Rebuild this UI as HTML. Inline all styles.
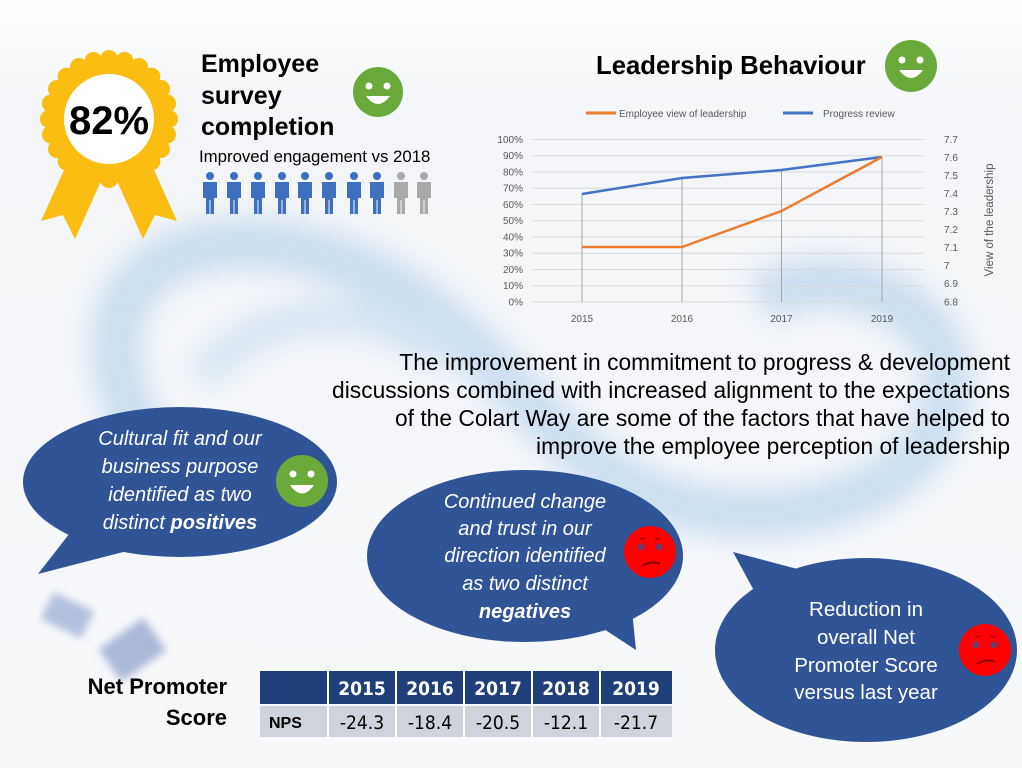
<!DOCTYPE html>
<html><head><meta charset="utf-8"><style>
html,body{margin:0;padding:0;background:#fff;}
svg{display:block;font-family:"Liberation Sans",sans-serif;}
</style></head><body>
<svg width="1022" height="768" viewBox="0 0 1022 768" xmlns="http://www.w3.org/2000/svg">
<defs>
<filter id="blur" x="-20%" y="-20%" width="140%" height="140%"><feGaussianBlur stdDeviation="14"/></filter>
<filter id="blur2"><feGaussianBlur stdDeviation="4"/></filter>
<linearGradient id="bg" x1="0" y1="0" x2="0" y2="1"><stop offset="0" stop-color="#ffffff"/><stop offset="0.15" stop-color="#f3f5f8"/><stop offset="1" stop-color="#f7f8fa"/></linearGradient>
</defs>
<rect width="1022" height="768" fill="url(#bg)"/>
<g filter="url(#blur)" fill="none" opacity="0.4">
<path d="M150 450 C 60 300, 160 220, 300 250 C 450 280, 520 420, 620 480 C 720 540, 900 520, 940 420 C 980 320, 850 250, 760 300" stroke="#8fb9e3" stroke-width="50"/>
<path d="M200 380 C 260 300, 380 300, 440 360" stroke="#a9cbe9" stroke-width="35"/>
</g>
<g filter="url(#blur2)" opacity="0.55">
<rect x="45" y="600" width="45" height="30" fill="#7d94c4" transform="rotate(25 67 615)"/>
<rect x="105" y="630" width="55" height="40" fill="#6f88bd" transform="rotate(-35 132 650)"/>
</g>

<!-- rosette -->
<g transform="translate(109,119)">
<polygon points="-40,40 -68,102 -46,96 -34,120 -8,62" fill="#fbbd12"/>
<polygon points="40,40 68,102 46,96 34,120 8,62" fill="#fbbd12"/>
<g fill="#fbbd12">
<circle r="60"/>
<circle cx="0" cy="-60" r="9"/><circle cx="30" cy="-52" r="9"/><circle cx="52" cy="-30" r="9"/><circle cx="60" cy="0" r="9"/><circle cx="52" cy="30" r="9"/><circle cx="30" cy="52" r="9"/><circle cx="0" cy="60" r="9"/><circle cx="-30" cy="52" r="9"/><circle cx="-52" cy="30" r="9"/><circle cx="-60" cy="0" r="9"/><circle cx="-52" cy="-30" r="9"/><circle cx="-30" cy="-52" r="9"/>
<circle cx="15.5" cy="-58" r="9"/><circle cx="42.4" cy="-42.4" r="9"/><circle cx="58" cy="-15.5" r="9"/><circle cx="58" cy="15.5" r="9"/><circle cx="42.4" cy="42.4" r="9"/><circle cx="15.5" cy="58" r="9"/><circle cx="-15.5" cy="58" r="9"/><circle cx="-42.4" cy="42.4" r="9"/><circle cx="-58" cy="15.5" r="9"/><circle cx="-58" cy="-15.5" r="9"/><circle cx="-42.4" cy="-42.4" r="9"/><circle cx="-15.5" cy="-58" r="9"/>
</g>
<circle r="45" fill="#fff"/>
<text x="0" y="15" text-anchor="middle" font-size="40" font-weight="bold" fill="#000">82%</text>
</g>

<g font-size="25" font-weight="bold" fill="#000">
<text x="201" y="72">Employee</text><text x="201" y="104">survey</text><text x="201" y="135">completion</text>
</g>
<text x="199" y="162" font-size="16.8" fill="#000">Improved engagement vs 2018</text>
<g>
<circle cx="378" cy="92" r="25" fill="#6aaa3a"/>
<circle cx="369" cy="86" r="3.5" fill="#fff"/><circle cx="387" cy="86" r="3.5" fill="#fff"/>
<path d="M366 96 Q378 112 390 96 Z" fill="#fff"/>
</g>
<g>
<g fill="#3f6fbf">
<g transform="translate(210,0)"><circle cx="0" cy="176" r="4"/><path d="M-7 182 h14 v16 h-3 v16 h-3.5 v-14 h-1 v14 h-3.5 v-16 h-3 z"/></g>
<g transform="translate(234,0)"><circle cx="0" cy="176" r="4"/><path d="M-7 182 h14 v16 h-3 v16 h-3.5 v-14 h-1 v14 h-3.5 v-16 h-3 z"/></g>
<g transform="translate(258,0)"><circle cx="0" cy="176" r="4"/><path d="M-7 182 h14 v16 h-3 v16 h-3.5 v-14 h-1 v14 h-3.5 v-16 h-3 z"/></g>
<g transform="translate(282,0)"><circle cx="0" cy="176" r="4"/><path d="M-7 182 h14 v16 h-3 v16 h-3.5 v-14 h-1 v14 h-3.5 v-16 h-3 z"/></g>
<g transform="translate(305,0)"><circle cx="0" cy="176" r="4"/><path d="M-7 182 h14 v16 h-3 v16 h-3.5 v-14 h-1 v14 h-3.5 v-16 h-3 z"/></g>
<g transform="translate(329,0)"><circle cx="0" cy="176" r="4"/><path d="M-7 182 h14 v16 h-3 v16 h-3.5 v-14 h-1 v14 h-3.5 v-16 h-3 z"/></g>
<g transform="translate(354,0)"><circle cx="0" cy="176" r="4"/><path d="M-7 182 h14 v16 h-3 v16 h-3.5 v-14 h-1 v14 h-3.5 v-16 h-3 z"/></g>
<g transform="translate(377,0)"><circle cx="0" cy="176" r="4"/><path d="M-7 182 h14 v16 h-3 v16 h-3.5 v-14 h-1 v14 h-3.5 v-16 h-3 z"/></g>
</g>
<g fill="#a9a9a9">
<g transform="translate(401,0)"><circle cx="0" cy="176" r="4"/><path d="M-7 182 h14 v16 h-3 v16 h-3.5 v-14 h-1 v14 h-3.5 v-16 h-3 z"/></g>
<g transform="translate(424,0)"><circle cx="0" cy="176" r="4"/><path d="M-7 182 h14 v16 h-3 v16 h-3.5 v-14 h-1 v14 h-3.5 v-16 h-3 z"/></g>
</g>
</g>

<text x="596" y="74" font-size="25.7" font-weight="bold" fill="#000">Leadership Behaviour</text>
<g>
<circle cx="911" cy="66" r="26" fill="#6aaa3a"/>
<circle cx="902" cy="60" r="3.5" fill="#fff"/><circle cx="920" cy="60" r="3.5" fill="#fff"/>
<path d="M899 70 Q911 86 923 70 Z" fill="#fff"/>
</g>

<g font-size="10" fill="#595959">
<line x1="586" y1="113" x2="616" y2="113" stroke="#ed7d31" stroke-width="3"/>
<text x="619" y="117">Employee view of leadership</text>
<line x1="783" y1="113" x2="813" y2="113" stroke="#4472c4" stroke-width="3"/>
<text x="823" y="117">Progress review</text>
<g stroke="#d9d9d9" stroke-width="1">
<line x1="532" x2="924" y1="139.5" y2="139.5"/><line x1="532" x2="924" y1="155.8" y2="155.8"/><line x1="532" x2="924" y1="172" y2="172"/><line x1="532" x2="924" y1="188.3" y2="188.3"/><line x1="532" x2="924" y1="204.5" y2="204.5"/><line x1="532" x2="924" y1="220.8" y2="220.8"/><line x1="532" x2="924" y1="237" y2="237"/><line x1="532" x2="924" y1="253.3" y2="253.3"/><line x1="532" x2="924" y1="269.5" y2="269.5"/><line x1="532" x2="924" y1="285.8" y2="285.8"/><line x1="532" x2="924" y1="302" y2="302"/>
</g>
<g stroke="#a6a6a6" stroke-width="1">
<line x1="582" x2="582" y1="194" y2="302"/><line x1="682" x2="682" y1="178" y2="302"/><line x1="781.5" x2="781.5" y1="170" y2="302"/><line x1="882" x2="882" y1="157" y2="302"/>
</g>
<polyline points="582,194 682,178 781.5,170 882,157" fill="none" stroke="#4472c4" stroke-width="2.5"/>
<polyline points="582,247 682,247 781.5,211 882,157" fill="none" stroke="#ed7d31" stroke-width="2.5"/>
<g text-anchor="end">
<text x="523" y="143">100%</text><text x="523" y="159">90%</text><text x="523" y="175.5">80%</text><text x="523" y="191.5">70%</text><text x="523" y="208">60%</text><text x="523" y="224">50%</text><text x="523" y="240.5">40%</text><text x="523" y="256.5">30%</text><text x="523" y="273">20%</text><text x="523" y="289">10%</text><text x="523" y="305.5">0%</text>
</g>
<g>
<text x="944" y="143">7.7</text><text x="944" y="161">7.6</text><text x="944" y="179">7.5</text><text x="944" y="197">7.4</text><text x="944" y="215">7.3</text><text x="944" y="233">7.2</text><text x="944" y="251">7.1</text><text x="944" y="269">7</text><text x="944" y="287">6.9</text><text x="944" y="305.5">6.8</text>
</g>
<g text-anchor="middle">
<text x="582" y="322">2015</text><text x="682" y="322">2016</text><text x="781.5" y="322">2017</text><text x="882" y="322">2019</text>
</g>
<text transform="translate(993,220) rotate(-90)" text-anchor="middle" font-size="11.5">View of the leadership</text>
</g>

<g font-size="22.8" fill="#000" text-anchor="end">
<text x="1010" y="370">The improvement in commitment to progress &amp; development</text>
<text x="1010" y="398">discussions combined with increased alignment to the expectations</text>
<text x="1010" y="426">of the Colart Way are some of the factors that have helped to</text>
<text x="1010" y="454">improve the employee perception of leadership</text>
</g>

<g fill="#2f5597">
<ellipse cx="180" cy="482" rx="157" ry="75"/>
<polygon points="80,520 38,574 150,545"/>
</g>
<g fill="#fff" font-size="20" font-style="italic" text-anchor="middle">
<text x="180" y="445">Cultural fit and our</text>
<text x="180" y="473">business purpose</text>
<text x="180" y="501">identified as two</text>
<text x="180" y="529">distinct <tspan font-weight="bold">positives</tspan></text>
</g>
<g>
<circle cx="302" cy="481" r="26" fill="#6aaa3a"/>
<circle cx="293" cy="474" r="3.5" fill="#fff"/><circle cx="311" cy="474" r="3.5" fill="#fff"/>
<path d="M290 485 Q302 502 314 485 Z" fill="#fff"/>
</g>

<g fill="#2f5597">
<ellipse cx="525" cy="556" rx="158" ry="86"/>
<polygon points="590,620 636,650 630,590"/>
</g>
<g fill="#fff" font-size="20" font-style="italic" text-anchor="middle">
<text x="525" y="508">Continued change</text>
<text x="525" y="535">and trust in our</text>
<text x="525" y="562">direction identified</text>
<text x="525" y="590">as two distinct</text>
<text x="525" y="618" font-weight="bold">negatives</text>
</g>
<g>
<circle cx="650" cy="552" r="26" fill="#ff0000"/>
<circle cx="641" cy="547" r="3.5" fill="#2f5597" opacity="0.7"/><circle cx="659" cy="547" r="3.5" fill="#2f5597" opacity="0.7"/>
<path d="M640 539 l5 -1 M655 538 l5 1" stroke="#a00" stroke-width="1.5"/>
<path d="M642 566 Q652 560 660 564" stroke="#8a0000" stroke-width="2" fill="none"/>
</g>

<g fill="#2f5597">
<ellipse cx="866" cy="650" rx="151" ry="92"/>
<polygon points="733,552 770,620 820,575"/>
</g>
<g fill="#fff" font-size="20.5" text-anchor="middle">
<text x="866" y="616">Reduction in</text>
<text x="866" y="644">overall Net</text>
<text x="866" y="672">Promoter Score</text>
<text x="866" y="699">versus last year</text>
</g>
<g>
<circle cx="985" cy="650" r="26" fill="#ff0000"/>
<circle cx="976" cy="645" r="3.5" fill="#2f5597" opacity="0.7"/><circle cx="994" cy="645" r="3.5" fill="#2f5597" opacity="0.7"/>
<path d="M975 637 l5 -1 M990 636 l5 1" stroke="#a00" stroke-width="1.5"/>
<path d="M977 664 Q987 658 995 662" stroke="#8a0000" stroke-width="2" fill="none"/>
</g>

<g font-size="22" font-weight="bold" fill="#000" text-anchor="end">
<text x="227" y="694">Net Promoter</text>
<text x="227" y="725">Score</text>
</g>
<g>
<rect x="260" y="671" width="412" height="33" fill="#1f3f7a"/>
<rect x="260" y="706" width="412" height="31" fill="#cfd3db"/>
<g stroke="#fff" stroke-width="2">
<line x1="328" y1="671" x2="328" y2="737"/><line x1="396" y1="671" x2="396" y2="737"/><line x1="464" y1="671" x2="464" y2="737"/><line x1="532" y1="671" x2="532" y2="737"/><line x1="600" y1="671" x2="600" y2="737"/>
</g>
<g font-family="'DejaVu Sans Condensed','Liberation Sans',sans-serif" text-anchor="middle">
<g fill="#fff" font-size="19" font-weight="bold">
<text x="362" y="695">2015</text><text x="430" y="695">2016</text><text x="498" y="695">2017</text><text x="566" y="695">2018</text><text x="636" y="695">2019</text>
</g>
<g fill="#000" font-size="19">
<text x="362" y="729">-24.3</text><text x="430" y="729">-18.4</text><text x="498" y="729">-20.5</text><text x="566" y="729">-12.1</text><text x="636" y="729">-21.7</text>
</g>
</g>
<text x="269" y="728" font-size="16" font-weight="bold" fill="#000">NPS</text>
</g>
</svg>
</body></html>
